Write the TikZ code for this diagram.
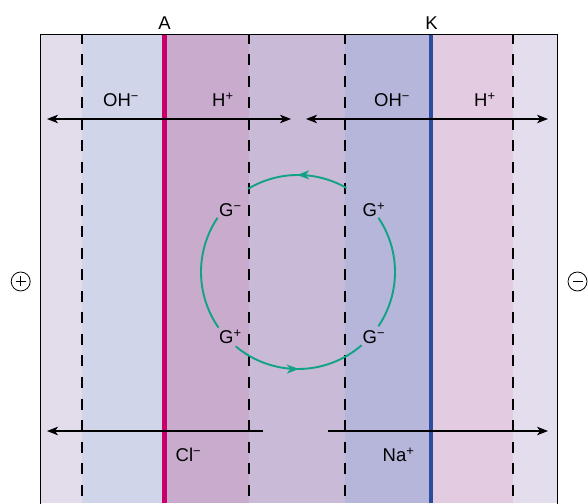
\documentclass[tikz,border=0pt]{standalone}
\usepackage{fontspec}
\setmainfont{Liberation Sans}
\usetikzlibrary{arrows.meta,decorations.markings}

\definecolor{bandA}{HTML}{E3DCEB}
\definecolor{bandB}{HTML}{D0D5EA}
\definecolor{bandC}{HTML}{C8ABCD}
\definecolor{bandD}{HTML}{C9BAD7}
\definecolor{bandE}{HTML}{B5B6DA}
\definecolor{bandF}{HTML}{E3CCE2}
\definecolor{bandG}{HTML}{E3DDEE}
\definecolor{anodeline}{HTML}{C8006A}
\definecolor{cathodeline}{HTML}{2E4C9E}
\definecolor{cycle}{HTML}{12A286}

\newcommand{\sminus}{\textsuperscript{−}}
\newcommand{\splus}{\textsuperscript{+}}

\tikzset{ionhead/.tip={Stealth[length=11pt,width=8.5pt,inset=3pt]}}

\begin{document}
\begin{tikzpicture}[x=1pt,y=1pt,
  lbl/.style={font=\fontsize{18.5}{18.5}\selectfont, inner sep=0pt, anchor=base west},
  toplbl/.style={font=\fontsize{18.5}{18.5}\selectfont, inner sep=0pt, anchor=base},
  guide/.style={black, line width=1.3pt, dash pattern=on 11pt off 10.5pt, dash phase=2pt},
  ionflow/.style={black, line width=1.1pt},
  cyclearc/.style={cycle, line width=1.9pt, postaction={decorate},
    decoration={markings, mark=at position 0.5 with {\arrow{Stealth[length=12pt,width=9pt,inset=3.5pt]}}}},
  cycleplain/.style={cycle, line width=1.9pt},
  pole/.style={draw, circle, minimum size=19pt, inner sep=0pt, line width=0.8pt}]

\useasboundingbox (0,0) rectangle (588,503);

% coloured compartments
\fill[bandA] (40,0) rectangle (82,468);
\fill[bandB] (82,0) rectangle (164.7,468);
\fill[bandC] (164.7,0) rectangle (249,468);
\fill[bandD] (249,0) rectangle (345,468);
\fill[bandE] (345,0) rectangle (431,468);
\fill[bandF] (431,0) rectangle (513,468);
\fill[bandG] (513,0) rectangle (557,468);

% outer frame
\draw[line width=1pt] (40,-2) -- (40,468) -- (557,468) -- (557,-2);

% dashed boundary layers
\foreach \xx in {82,249,345,513}
  \draw[guide] (\xx,468) -- (\xx,0);

% membranes
\draw[anodeline, line width=4.5pt] (164.7,0) -- (164.7,468);
\draw[cathodeline, line width=4.5pt] (431,0) -- (431,468);

% membrane names
\node[toplbl] (mA) at (164.5,473) {A};
\node[toplbl] (mK) at (431.5,473) {K};

% water splitting ions
\coordinate (t1l) at (47,384);
\coordinate (t1r) at (291,384);
\coordinate (t2l) at (306,384);
\coordinate (t2r) at (548,384);
\draw[ionflow, ionhead-ionhead] (t1l) -- (t1r);
\draw[ionflow, ionhead-ionhead] (t2l) -- (t2r);
\node[lbl] (oh1) at (103,396) {OH\sminus};
\node[lbl] (h1) at (212,396) {H\splus};
\node[lbl] (oh2) at (374,396) {OH\sminus};
\node[lbl] (h2) at (474,396) {H\splus};

% salt ions
\coordinate (b1s) at (263,72);
\coordinate (b1e) at (47,72);
\coordinate (b2s) at (328,72);
\coordinate (b2e) at (548,72);
\draw[ionflow, -ionhead] (b1s) -- (b1e);
\draw[ionflow, -ionhead] (b2s) -- (b2e);
\node[lbl] (cl) at (175.5,41.5) {Cl\sminus};
\node[lbl] (na) at (382.5,41.5) {Na\splus};

% recirculating G ions
\coordinate (cc) at (298,231);
\draw[cyclearc] ([shift={(60:97)}]cc) arc[start angle=60, end angle=121, radius=97];
\draw[cycleplain] ([shift={(146:97)}]cc) arc[start angle=146, end angle=215, radius=97];
\draw[cyclearc] ([shift={(230:97)}]cc) arc[start angle=230, end angle=311, radius=97];
\draw[cycleplain] ([shift={(326:97)}]cc) arc[start angle=326, end angle=394, radius=97];
\node[lbl] (g1) at (219,286) {G\sminus};
\node[lbl] (g2) at (362.5,286) {G\splus};
\node[lbl] (g3) at (219,159) {G\splus};
\node[lbl] (g4) at (362.5,159) {G\sminus};

% electrodes
\node[pole] (plus) at (20.7,221.5) {};
\draw[line width=0.8pt] ([xshift=-5pt]plus.center) -- ([xshift=5pt]plus.center)
  ([yshift=-5pt]plus.center) -- ([yshift=5pt]plus.center);
\node[pole] (minus) at (577.5,221.5) {};
\draw[line width=0.8pt] ([xshift=-5pt]minus.center) -- ([xshift=5pt]minus.center);

\end{tikzpicture}
\end{document}
